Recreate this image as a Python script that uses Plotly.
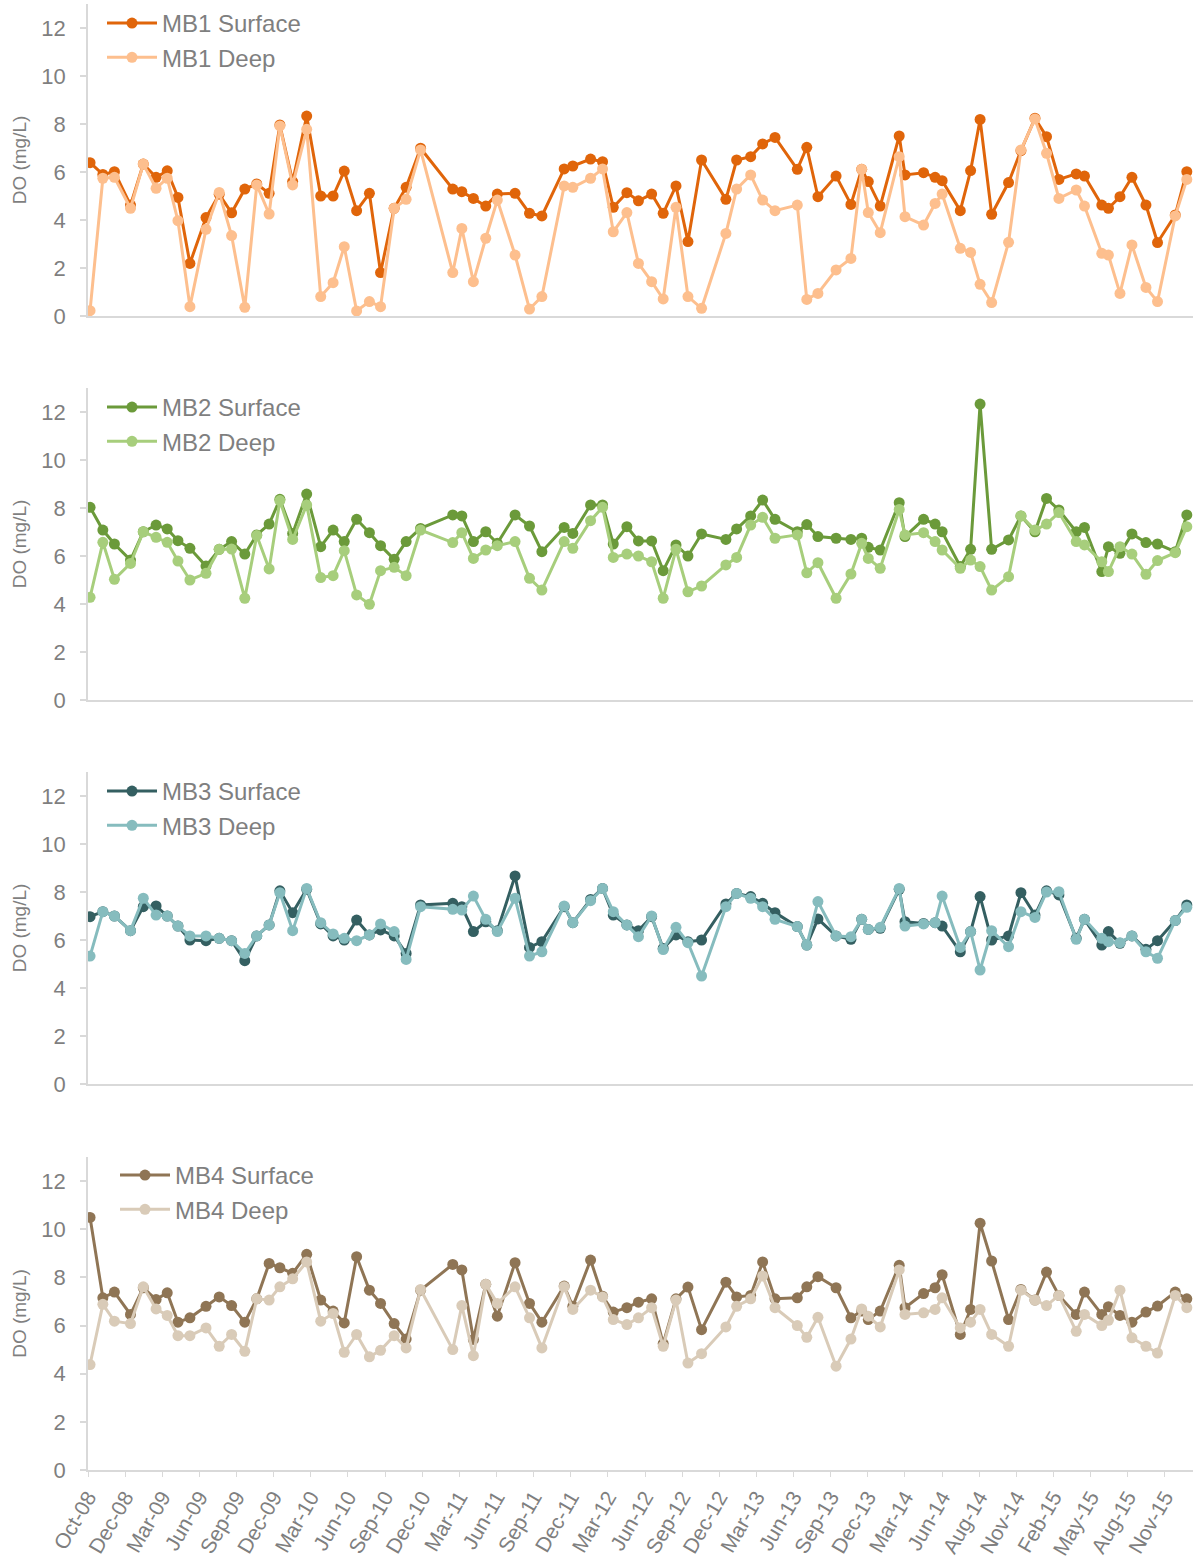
import plotly.graph_objects as go

# ---------------- data ----------------
dates = [
    "2008-10-06", "2008-11-06", "2008-12-04", "2009-01-12", "2009-02-12", "2009-03-15",
    "2009-04-11", "2009-05-07", "2009-06-05", "2009-07-14", "2009-08-15", "2009-09-14",
    "2009-10-16", "2009-11-14", "2009-12-14", "2010-01-09", "2010-02-09", "2010-03-15",
    "2010-04-18", "2010-05-18", "2010-06-14", "2010-07-14", "2010-08-14", "2010-09-10",
    "2010-10-13", "2010-11-11", "2010-12-16", "2011-03-04", "2011-03-26", "2011-04-23",
    "2011-05-23", "2011-06-20", "2011-08-02", "2011-09-06", "2011-10-06", "2011-11-29",
    "2011-12-20", "2012-02-01", "2012-03-01", "2012-03-27", "2012-04-29", "2012-05-27",
    "2012-06-28", "2012-07-26", "2012-08-26", "2012-09-24", "2012-10-27", "2012-12-25",
    "2013-01-20", "2013-02-23", "2013-03-24", "2013-04-23", "2013-06-16", "2013-07-09",
    "2013-08-05", "2013-09-18", "2013-10-24", "2013-11-19", "2013-12-05", "2014-01-03",
    "2014-02-18", "2014-03-04", "2014-04-18", "2014-05-16", "2014-06-02", "2014-07-16",
    "2014-08-10", "2014-09-02", "2014-09-30", "2014-11-10", "2014-12-10", "2015-01-13",
    "2015-02-10", "2015-03-12", "2015-04-23", "2015-05-13", "2015-06-24", "2015-07-10",
    "2015-08-07", "2015-09-05", "2015-10-09", "2015-11-06", "2015-12-19", "2016-01-16",
]

mb1_surface = [
    6.39, 5.9, 6.01, 4.62, 6.33, 5.78, 6.05, 4.94, 2.19, 4.1, 5.07, 4.3, 5.29, 5.5, 5.11,
    7.96, 5.6, 8.33, 5.0, 5.0, 6.04, 4.39, 5.11, 1.81, 4.49, 5.36, 6.99,
    5.29, 5.18,
    4.9, 4.58, 5.08, 5.11, 4.28, 4.17, 6.13, 6.25, 6.54, 6.43, 4.53, 5.14, 4.8, 5.08,
    4.28, 5.42, 3.1, 6.5, 4.86, 6.5, 6.64, 7.17, 7.44, 6.11, 7.03, 4.97,
    5.83, 4.65, 6.11, 5.6, 4.58, 7.5, 5.88, 5.97, 5.78, 5.64, 4.39, 6.06, 8.19, 4.24,
    5.56, 6.89, 8.24, 7.47, 5.69, 5.92, 5.83, 4.62, 4.49, 4.97, 5.78, 4.62, 3.06, 4.21, 6.01,
]
mb1_deep = [
    0.22, 5.74, 5.78, 4.49, 6.33, 5.32, 5.74, 3.97, 0.39, 3.61, 5.15, 3.35, 0.36, 5.46, 4.25,
    7.92, 5.46, 7.78, 0.81, 1.39, 2.89, 0.21, 0.6, 0.39, 4.49, 4.86, 6.92,
    1.81, 3.65,
    1.43, 3.24, 4.83, 2.54, 0.29, 0.81, 5.42, 5.36, 5.74, 6.13, 3.51, 4.31, 2.19, 1.43,
    0.71, 4.53, 0.81, 0.32, 3.44, 5.29, 5.88, 4.83, 4.39, 4.62, 0.69, 0.94,
    1.92, 2.4, 6.11, 4.31, 3.47, 6.64, 4.14, 3.79, 4.69, 5.08, 2.82, 2.65, 1.32, 0.56,
    3.07, 6.92, 8.21, 6.78, 4.9, 5.25, 4.58, 2.61, 2.54, 0.94, 2.96, 1.19, 0.6, 4.17, 5.69,
]
mb2_surface = [
    8.03, 7.08, 6.5, 5.83, 7.01, 7.29, 7.13, 6.64, 6.32, 5.58, 6.28, 6.6, 6.08, 6.88, 7.33,
    8.36, 6.94, 8.58, 6.39, 7.08, 6.6, 7.53, 6.97, 6.43, 5.86, 6.6, 7.15,
    7.71, 7.67,
    6.6, 7.01, 6.53, 7.71, 7.25, 6.18, 7.19, 6.94, 8.13, 8.13, 6.5, 7.22, 6.63, 6.63,
    5.39, 6.46, 6.0, 6.92, 6.69, 7.13, 7.67, 8.33, 7.53, 7.01, 7.31, 6.81,
    6.74, 6.69, 6.74, 6.36, 6.25, 8.22, 6.81, 7.53, 7.33, 7.01, 5.56, 6.28, 12.33, 6.28,
    6.67, 7.67, 7.01, 8.4, 7.92, 7.01, 7.19, 5.35, 6.39, 6.11, 6.92, 6.56, 6.5, 6.18, 7.71,
]
mb2_deep = [
    4.28, 6.57, 5.03, 5.69, 7.01, 6.78, 6.57, 5.79, 5.0, 5.28, 6.28, 6.29, 4.24, 6.85, 5.46,
    8.31, 6.69, 8.13, 5.1, 5.18, 6.22, 4.38, 3.99, 5.39, 5.53, 5.18, 7.08,
    6.56, 6.97,
    5.9, 6.25, 6.43, 6.6, 5.07, 4.58, 6.6, 6.32, 7.47, 8.03, 5.94, 6.08, 6.0, 5.76,
    4.24, 6.28, 4.51, 4.75, 5.63, 5.94, 7.29, 7.61, 6.74, 6.88, 5.3, 5.72,
    4.24, 5.25, 6.53, 5.9, 5.49, 7.94, 6.88, 6.97, 6.6, 6.25, 5.49, 5.83, 5.56, 4.58,
    5.14, 7.67, 7.08, 7.33, 7.81, 6.6, 6.46, 5.76, 5.35, 6.39, 6.08, 5.24, 5.81, 6.14, 7.22,
]
mb3_surface = [
    6.97, 7.18, 7.0, 6.39, 7.39, 7.42, 7.0, 6.58, 6.0, 5.97, 6.07, 5.97, 5.14, 6.17, 6.63,
    8.05, 7.14, 8.11, 6.67, 6.17, 6.0, 6.83, 6.21, 6.42, 6.17, 5.44, 7.46,
    7.53, 7.39,
    6.35, 6.76, 6.39, 8.67, 5.69, 5.93, 7.39, 6.72, 7.69, 8.15, 7.04, 6.63, 6.39, 6.97,
    5.65, 6.21, 5.93, 6.0, 7.5, 7.94, 7.81, 7.53, 7.14, 6.56, 5.79, 6.88,
    6.17, 6.03, 6.86, 6.44, 6.49, 8.11, 6.76, 6.69, 6.72, 6.58, 5.51, 6.35, 7.81, 6.0,
    6.17, 7.97, 7.04, 8.05, 7.88, 6.07, 6.86, 5.79, 6.35, 5.86, 6.17, 5.61, 5.97, 6.81, 7.46,
]
mb3_deep = [
    5.33, 7.18, 7.0, 6.39, 7.74, 7.04, 7.0, 6.58, 6.17, 6.17, 6.07, 5.97, 5.44, 6.17, 6.63,
    7.97, 6.39, 8.15, 6.72, 6.25, 6.07, 5.97, 6.21, 6.67, 6.35, 5.19, 7.39,
    7.28, 7.25,
    7.83, 6.86, 6.35, 7.74, 5.33, 5.51, 7.42, 6.72, 7.64, 8.15, 7.18, 6.63, 6.14, 7.0,
    5.6, 6.53, 5.89, 4.5, 7.39, 7.94, 7.74, 7.39, 6.86, 6.56, 5.79, 7.6,
    6.17, 6.14, 6.86, 6.44, 6.53, 8.15, 6.58, 6.67, 6.72, 7.83, 5.69, 6.35, 4.75, 6.39,
    5.72, 7.18, 6.94, 8.0, 8.01, 6.03, 6.86, 6.07, 5.93, 5.89, 6.17, 5.51, 5.24, 6.81, 7.36,
]
mb4_surface = [
    10.49, 7.15, 7.39, 6.46, 7.57, 7.08, 7.36, 6.14, 6.32, 6.8, 7.19, 6.83, 6.14, 7.11, 8.58,
    8.4, 8.17, 8.96, 7.06, 6.6, 6.11, 8.86, 7.47, 6.92, 6.08, 5.44, 7.47,
    8.54, 8.31,
    5.42, 7.71, 6.39, 8.61, 6.92, 6.14, 7.64, 6.8, 8.72, 7.22, 6.56, 6.74, 6.97, 7.11,
    5.25, 7.11, 7.6, 5.83, 7.8, 7.19, 7.25, 8.64, 7.11, 7.15, 7.61, 8.03,
    7.57, 6.32, 6.6, 6.25, 6.6, 8.5, 6.74, 7.33, 7.57, 8.11, 5.63, 6.67, 10.25, 8.68,
    6.25, 7.5, 7.06, 8.22, 7.25, 6.46, 7.39, 6.46, 6.78, 6.42, 6.14, 6.56, 6.81, 7.39, 7.11,
]
mb4_deep = [
    4.38, 6.88, 6.18, 6.08, 7.61, 6.69, 6.42, 5.58, 5.58, 5.9, 5.14, 5.63, 4.93, 7.11, 7.06,
    7.61, 7.94, 8.64, 6.18, 6.5, 4.89, 5.63, 4.7, 4.97, 5.58, 5.07, 7.5,
    5.0, 6.83,
    4.75, 7.71, 6.92, 7.61, 6.32, 5.07, 7.61, 6.67, 7.47, 7.19, 6.25, 6.04, 6.32, 6.74,
    5.14, 7.06, 4.44, 4.83, 5.94, 6.8, 7.11, 8.06, 6.74, 6.0, 5.51, 6.34,
    4.31, 5.44, 6.69, 6.39, 5.94, 8.31, 6.46, 6.53, 6.67, 7.15, 5.9, 6.14, 6.67, 5.63,
    5.14, 7.47, 7.06, 6.83, 7.25, 5.76, 6.46, 6.0, 6.22, 7.47, 5.49, 5.14, 4.86, 7.25, 6.74,
]

sites = ["MB1", "MB2", "MB3", "MB4"]
surface_series = [mb1_surface, mb2_surface, mb3_surface, mb4_surface]
deep_series = [mb1_deep, mb2_deep, mb3_deep, mb4_deep]
surface_colors = ["#E0650A", "#6B9A3A", "#345F61", "#8F7555"]
deep_colors = ["#FDBF8E", "#A7CE7C", "#86BCBE", "#D9CBB8"]

y_ticks = [0, 2, 4, 6, 8, 10, 12]
x_start, x_end = "2008-10-01", "2016-01-31"
tick_step_days = 90

# ---------------- figure ----------------
W, H = 1194, 1559
ML, MR, MT, MB = 88, 1, 4, 89
plot_w = W - ML - MR
plot_h = H - MT - MB
font_family = "Liberation Sans, Arial, sans-serif"
gray_text = "#7F7F7F"
axis_gray = "#D9D9D9"

# pixel rows of each panel (top of y=13, bottom of y=0)
panel_px = [(4, 316), (388, 700), (772, 1084), (1157, 1470)]
legend_left_px = [102, 102, 102, 115]
legend_top_px = [1, 385, 769, 1153]

def frac(py):
    return (H - MB - py) / plot_h

fig = go.Figure()
layout = {}
for i, site in enumerate(sites):
    n = "" if i == 0 else str(i + 1)
    leg = "legend" if i == 0 else f"legend{i + 1}"
    for label, vals, col in (("Surface", surface_series[i], surface_colors[i]),
                             ("Deep", deep_series[i], deep_colors[i])):
        fig.add_trace(go.Scatter(
            x=dates, y=vals, mode="lines+markers", name=f"{site} {label}",
            line=dict(color=col, width=3), marker=dict(color=col, size=11),
            xaxis=f"x{n}", yaxis=f"y{n}", legend=leg,
        ))
    top, bot = panel_px[i]
    layout[f"yaxis{n}"] = dict(
        domain=[frac(bot), frac(top)], range=[0, 13], tickvals=y_ticks,
        showline=True, linecolor=axis_gray, linewidth=1.5,
        ticks="outside", ticklen=6, tickcolor=axis_gray, tickwidth=1.5,
        ticklabelstandoff=10,
        showgrid=False, zeroline=False,
        tickfont=dict(size=22, color=gray_text, family=font_family),
        title=dict(text="DO (mg/L)", standoff=10,
                   font=dict(size=19, color=gray_text, family=font_family)),
        anchor=f"x{n}",
    )
    last = i == len(sites) - 1
    layout[f"xaxis{n}"] = dict(
        type="date", range=[x_start, x_end], anchor=f"y{n}",
        showline=True, linecolor=axis_gray, linewidth=1.5,
        showgrid=False, zeroline=False,
        tick0=x_start, dtick=tick_step_days * 86400000,
        ticks="outside" if last else "", ticklen=5, tickcolor=axis_gray,
        showticklabels=last, tickformat="%b-%y", tickangle=-60,
        tickfont=dict(size=21, color=gray_text, family=font_family),
    )
    layout[leg] = dict(
        x=(legend_left_px[i] - ML) / plot_w, y=frac(legend_top_px[i]),
        xanchor="left", yanchor="top",
        bgcolor="rgba(0,0,0,0)", font=dict(size=24, color=gray_text, family=font_family),
        tracegroupgap=0, itemwidth=50,
    )

fig.update_layout(
    width=W, height=H, margin=dict(l=ML, r=MR, t=MT, b=MB, autoexpand=False),
    plot_bgcolor="white", paper_bgcolor="white", showlegend=True, hovermode=False,
    font=dict(family=font_family, color=gray_text),
    **layout,
)

fig.write_html("out.html", config={"displayModeBar": False},
               post_script="document.body.style.margin='0';")
